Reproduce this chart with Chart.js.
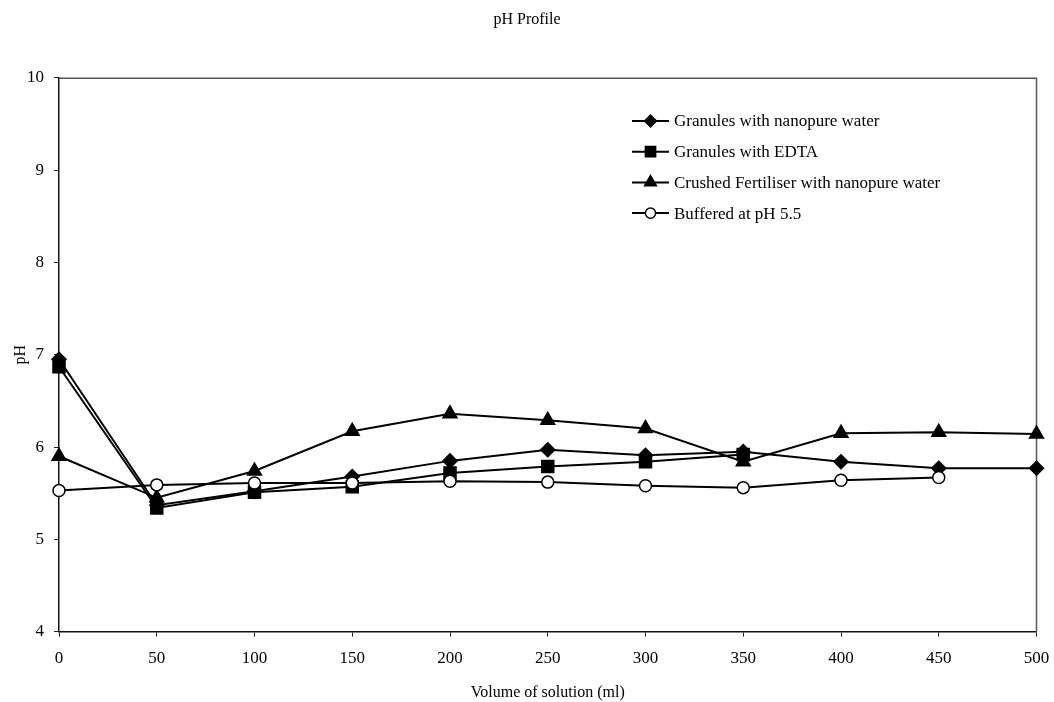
<!DOCTYPE html>
<html>
<head>
<meta charset="utf-8">
<title>pH Profile</title>
<script src="https://cdn.jsdelivr.net/npm/chart.js@4/dist/chart.umd.min.js"></script>
<style>
  html, body { margin: 0; padding: 0; background: #fff; }
  #wrap { width: 1054px; height: 702px; position: relative; }
</style>
</head>
<body>
<div id="wrap"><canvas id="c" width="1054" height="702"></canvas></div>
<script>
// Volume of solution added (ml)
const volumes = [0, 50, 100, 150, 200, 250, 300, 350, 400, 450, 500];

// Measured pH for each run
const granulesWater = [6.95, 5.37, 5.52, 5.68, 5.85, 5.97, 5.91, 5.95, 5.84, 5.77, 5.77];
const granulesEdta = [6.87, 5.34, 5.51, 5.57, 5.72, 5.79, 5.84, 5.92];
const crushedWater = [5.90, 5.45, 5.74, 6.17, 6.36, 6.29, 6.20, 5.84, 6.15, 6.16, 6.14];
const buffered = [5.53, 5.59, 5.61, 5.61, 5.63, 5.62, 5.58, 5.56, 5.64, 5.67];

const seriesNames = [
  'Granules with nanopure water',
  'Granules with EDTA',
  'Crushed Fertiliser with nanopure water',
  'Buffered at pH 5.5'
];

const yTicks = [4, 5, 6, 7, 8, 9, 10];

const SERIF = '"Liberation Serif", "DejaVu Serif", serif';

function toPoints(vals) {
  return vals.map((v, i) => ({ x: volumes[i], y: v }));
}

const styles = [
  { pointStyle: 'rectRot', pointRadius: 7, fill: '#000' },
  { pointStyle: 'rect', pointRadius: 8.5, fill: '#000' },
  { pointStyle: 'triangle', pointRadius: 8, fill: '#000' },
  { pointStyle: 'circle', pointRadius: 6, fill: '#fff' }
];

const seriesValues = [granulesWater, granulesEdta, crushedWater, buffered];

const datasets = seriesValues.map((vals, i) => ({
  label: seriesNames[i],
  data: toPoints(vals),
  borderColor: '#000',
  borderWidth: 2,
  pointStyle: styles[i].pointStyle,
  pointRadius: styles[i].pointRadius,
  pointHoverRadius: styles[i].pointRadius,
  pointBackgroundColor: styles[i].fill,
  pointBorderColor: '#000',
  pointBorderWidth: 1.5,
  tension: 0,
  order: 3 - i
}));

// Frame around the plotting area (top and right edges)
const framePlugin = {
  id: 'frame',
  beforeDatasetsDraw(chart) {
    const { ctx, chartArea: a } = chart;
    ctx.save();
    ctx.strokeStyle = '#555';
    ctx.lineWidth = 1.5;
    ctx.beginPath();
    ctx.moveTo(a.left, a.top + 0.5);
    ctx.lineTo(a.right, a.top + 0.5);
    ctx.lineTo(a.right, a.bottom);
    ctx.stroke();
    ctx.restore();
  }
};

// Legend: line sample with the series marker in the middle
function drawMarker(ctx, style, x, y, r, fill) {
  ctx.beginPath();
  if (style === 'rectRot') {
    ctx.moveTo(x, y - r); ctx.lineTo(x + r, y); ctx.lineTo(x, y + r); ctx.lineTo(x - r, y);
    ctx.closePath();
  } else if (style === 'rect') {
    const s = Math.SQRT1_2 * r;
    ctx.rect(x - s, y - s, 2 * s, 2 * s);
  } else if (style === 'triangle') {
    const h = 0.866 * r;
    ctx.moveTo(x, y - r); ctx.lineTo(x + h, y + r / 2); ctx.lineTo(x - h, y + r / 2);
    ctx.closePath();
  } else {
    ctx.arc(x, y, r, 0, Math.PI * 2);
  }
  ctx.fillStyle = fill;
  ctx.fill();
  ctx.lineWidth = 1.5;
  ctx.strokeStyle = '#000';
  ctx.stroke();
}

const legendPlugin = {
  id: 'lineLegend',
  afterDraw(chart) {
    const { ctx } = chart;
    const x0 = 632, x1 = 669, tx = 674;
    const y0 = 121, dy = 30.7;
    ctx.save();
    ctx.font = '17px ' + SERIF;
    ctx.textBaseline = 'middle';
    ctx.textAlign = 'left';
    seriesNames.forEach((name, i) => {
      const y = y0 + i * dy;
      ctx.beginPath();
      ctx.moveTo(x0, y); ctx.lineTo(x1, y);
      ctx.lineWidth = 2; ctx.strokeStyle = '#000';
      ctx.stroke();
      drawMarker(ctx, styles[i].pointStyle, (x0 + x1) / 2, y, styles[i].pointRadius * 0.85, styles[i].fill);
      ctx.fillStyle = '#000';
      ctx.fillText(name, tx, y + 1);
    });
    ctx.restore();
  }
};

new Chart(document.getElementById('c'), {
  type: 'line',
  data: { datasets },
  options: {
    responsive: false,
    animation: false,
    clip: false,
    layout: { padding: { top: 10, right: 17.5, bottom: 0, left: 17.5 } },
    plugins: {
      legend: { display: false },
      tooltip: { enabled: false },
      title: {
        display: true,
        text: 'pH Profile',
        color: '#000',
        font: { family: SERIF, size: 16, weight: 'normal' },
        padding: { top: 0, bottom: 48.5 }
      }
    },
    scales: {
      x: {
        type: 'linear',
        min: 0,
        max: 500,
        afterFit(scale) {
          scale.height = 70.3;
          scale.paddingLeft = 0;
          scale.paddingRight = 0;
        },
        ticks: {
          stepSize: 50,
          color: '#000',
          padding: 12,
          maxRotation: 0,
          font: { family: SERIF, size: 17 }
        },
        grid: { display: true, drawOnChartArea: false, drawTicks: true, tickLength: 5, color: '#222', lineWidth: 1 },
        border: { display: true, color: '#111', width: 1.5 },
        title: {
          display: true,
          text: 'Volume of solution (ml)',
          color: '#000',
          font: { family: SERIF, size: 16 },
          padding: { top: 4, bottom: 0 }
        }
      },
      y: {
        type: 'linear',
        min: yTicks[0],
        max: yTicks[yTicks.length - 1],
        afterFit(scale) { scale.width = 41.5; },
        afterBuildTicks(scale) { scale.ticks = yTicks.map(v => ({ value: v })); },
        ticks: {
          color: '#000',
          padding: 10,
          font: { family: SERIF, size: 17 }
        },
        grid: { display: true, drawOnChartArea: false, drawTicks: true, tickLength: 5, color: '#222', lineWidth: 1 },
        border: { display: true, color: '#111', width: 1.5 },
        title: {
          display: true,
          text: 'pH',
          color: '#000',
          font: { family: SERIF, size: 16 },
          padding: { top: -6, bottom: 0 }
        }
      }
    }
  },
  plugins: [framePlugin, legendPlugin]
});
</script>
</body>
</html>
